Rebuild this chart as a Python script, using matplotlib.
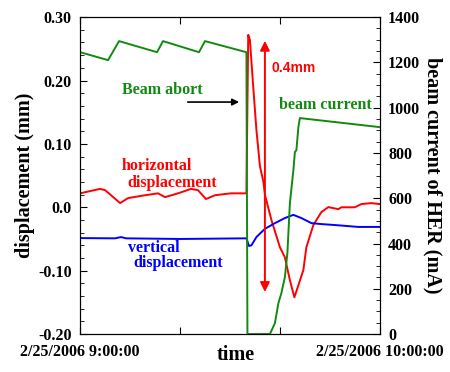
import numpy as np
import matplotlib
matplotlib.use('Agg')
import matplotlib.pyplot as plt
from matplotlib.ticker import MultipleLocator, FixedLocator, FuncFormatter

plt.rcParams['font.family'] = ['Liberation Serif', 'DejaVu Serif']
plt.rcParams['font.weight'] = 'bold'
plt.rcParams['axes.labelweight'] = 'bold'

# time in minutes after 2/25/2006 9:00:00
t_current = [0, 5.6, 7.8, 15.4, 16.6, 23.8, 25.0, 33.3, 33.5, 38.0, 39.0, 39.7, 40.3,
             41.0, 41.5, 42.0, 42.7, 43.0, 43.3, 43.7, 44.0, 60]
beam_current = [1245, 1210, 1294, 1245, 1294, 1245, 1294, 1245, 0, 0, 48, 137, 181,
                252, 358, 578, 724, 804, 812, 914, 954, 914]

t_horiz = [0, 4.0, 5.0, 6.2, 8.0, 9.6, 13.0, 15.6, 17.0, 19.6, 22.2, 23.6, 25.2, 27.0,
           30.2, 33.3, 33.66, 34.0, 34.66, 35.3, 36.0, 36.7, 37.0, 38.3, 40.0, 41.0,
           42.0, 42.9, 43.7, 44.7, 45.3, 46.7, 48.3, 49.7, 51.7, 52.3, 55.0, 56.3, 58.3, 60]
horiz = [0.022, 0.029, 0.027, 0.019, 0.0066, 0.0145, 0.019, 0.022, 0.016, 0.022, 0.029,
         0.027, 0.013, 0.019, 0.022, 0.022, 0.272, 0.264, 0.19, 0.122, 0.065, 0.04, 0.02,
         -0.020, -0.063, -0.079, -0.115, -0.142, -0.123, -0.099, -0.063, -0.028, -0.0076,
         0.0003, -0.003, 0.0, 0.0, 0.005, 0.0066, 0.005]

t_vert = [0, 7.0, 8.2, 9.2, 20.0, 33.3, 33.8, 34.3, 35.3, 37.0, 39.0, 41.0, 42.7, 44.3,
          46.3, 48.3, 51.0, 55.7, 60]
vert = [-0.0486, -0.049, -0.047, -0.049, -0.050, -0.049, -0.061, -0.060, -0.047, -0.034,
        -0.025, -0.017, -0.012, -0.017, -0.025, -0.0265, -0.028, -0.031, -0.031]

x_ticks = [0, 20, 40, 60]
x_labels = ['2/25/2006 9:00:00', '', '', '2/25/2006 10:00:00']

green = '#128a12'

fig = plt.figure(figsize=(4.5, 3.72), dpi=100)
ax = fig.add_axes([0.178, 0.102, 0.666, 0.852])
ax2 = ax.twinx()

ax.plot(t_horiz, horiz, color='red', lw=1.4)
ax.plot(t_vert, vert, color='blue', lw=1.4)
ax2.plot(t_current, beam_current, color=green, lw=1.4)

ax.set_xlim(0, 60)
ax.set_ylim(-0.2, 0.3)
ax2.set_ylim(0, 1400)

ax.xaxis.set_major_locator(FixedLocator(x_ticks))
ax.set_xticklabels(x_labels)
ax.yaxis.set_major_locator(MultipleLocator(0.1))
ax.yaxis.set_minor_locator(MultipleLocator(0.02))
ax.yaxis.set_major_formatter(FuncFormatter(lambda v, p: '0.0' if abs(v) < 1e-9 else '%.2f' % v))
ax2.yaxis.set_major_locator(MultipleLocator(200))
ax2.yaxis.set_minor_locator(MultipleLocator(50))

ax.tick_params(axis='both', which='both', direction='in', labelsize=11.5)
ax.tick_params(axis='x', top=True, length=5, pad=7)
ax.tick_params(axis='y', which='major', length=5, pad=6)
ax.tick_params(axis='y', which='minor', length=3)
ax2.tick_params(axis='y', which='both', direction='in', labelsize=11.5, pad=6)
ax2.tick_params(axis='y', which='major', length=5)
ax2.tick_params(axis='y', which='minor', length=3)

ax.set_ylabel('displacement (mm)', fontsize=14.5, fontweight='bold', labelpad=2)
ax2.set_ylabel('beam current of HER (mA)', fontsize=14.5, fontweight='bold',
               rotation=270, labelpad=16)
fig.text(0.525, 0.018, 'time', fontsize=14.5, fontweight='bold', ha='center', va='bottom')

# annotations
ax.text(8.4, 0.185, 'Beam abort', color=green, fontsize=11.5, va='center')
ax.annotate('', xy=(32.4, 0.166), xytext=(21.0, 0.166),
            arrowprops=dict(arrowstyle='-|>', color='black', lw=1.2, mutation_scale=10))
ax.text(8.4, 0.065, 'horizontal', color='red', fontsize=11.5, va='center')
ax.text(9.4, 0.038, 'displacement', color='red', fontsize=11.5, va='center')
ax.text(9.6, -0.064, 'vertical', color='blue', fontsize=11.5, va='center')
ax.text(10.6, -0.088, 'displacement', color='blue', fontsize=11.5, va='center')
ax.text(39.8, 0.161, 'beam current', color=green, fontsize=11.5, va='center')
ax.text(38.4, 0.22, '0.4mm', color='red', fontsize=10, va='center',
        family='Liberation Sans', weight='bold')
ax.annotate('', xy=(37.0, 0.267), xytext=(37.0, -0.138),
            arrowprops=dict(arrowstyle='<|-|>', color='red', lw=1.4, mutation_scale=14))

fig.savefig('out.png', dpi=100)
